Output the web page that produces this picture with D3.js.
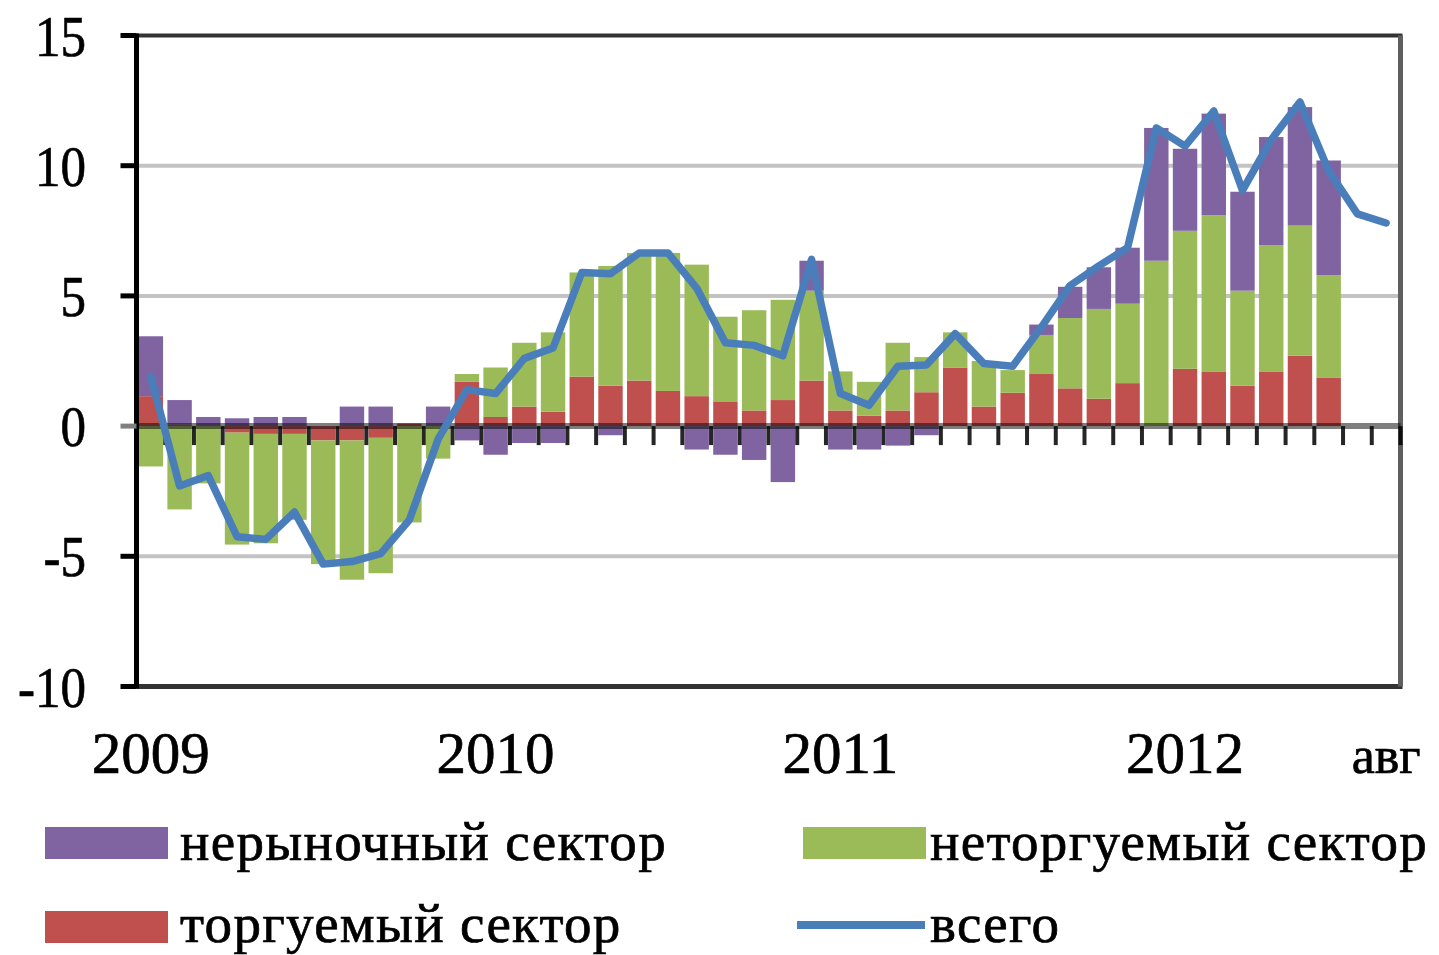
<!DOCTYPE html>
<html>
<head>
<meta charset="utf-8">
<script src="https://cdn.jsdelivr.net/npm/d3@7"></script>
<style>
  html, body { margin: 0; padding: 0; background: #fff; }
  svg text { font-family: 'Liberation Serif', 'Times New Roman', serif; fill: #000; stroke: #000; stroke-width: 0.7px; }
</style>
</head>
<body>
<div id="root"></div>
<script>
const months = [
  '2009-01', '2009-02', '2009-03', '2009-04', '2009-05', '2009-06', '2009-07', '2009-08', '2009-09', '2009-10', '2009-11', '2009-12',
  '2010-01', '2010-02', '2010-03', '2010-04', '2010-05', '2010-06', '2010-07', '2010-08', '2010-09', '2010-10', '2010-11', '2010-12',
  '2011-01', '2011-02', '2011-03', '2011-04', '2011-05', '2011-06', '2011-07', '2011-08', '2011-09', '2011-10', '2011-11', '2011-12',
  '2012-01', '2012-02', '2012-03', '2012-04', '2012-05', '2012-06', '2012-07', '2012-08',
];

// торгуемый сектор
const traded = [
  1.15, 0.05, 0, -0.25, -0.3, -0.3, -0.55, -0.55, -0.45, 0.1,
  0, 1.7, 0.35, 0.75, 0.55, 1.9, 1.55, 1.75, 1.35, 1.15,
  0.95, 0.6, 1.0, 1.75, 0.6, 0.4, 0.6, 1.3, 2.25, 0.75,
  1.28, 2.0, 1.45, 1.05, 1.65, 0, 2.2, 2.1, 1.55, 2.1,
  2.7, 1.85,
];

// неторгуемый сектор
const nonTraded = [
  -1.55, -3.2, -2.2, -4.3, -4.2, -3.3, -4.75, -5.35, -5.2, -3.7,
  -1.25, 0.3, 1.9, 2.45, 3.05, 4.0, 4.6, 4.9, 5.3, 5.05,
  3.25, 3.85, 3.85, 3.45, 1.5, 1.3, 2.6, 1.35, 1.35, 1.75,
  0.87, 1.5, 2.7, 3.45, 3.05, 6.35, 5.3, 6.0, 3.65, 4.85,
  5.0, 3.95,
];

// нерыночный сектор
const nonMarket = [
  2.3, 0.95, 0.35, 0.3, 0.35, 0.35, 0, 0.75, 0.75, 0,
  0.75, -0.55, -1.1, -0.65, -0.65, 0, -0.35, 0, 0, -0.9,
  -1.1, -1.3, -2.15, 1.15, -0.9, -0.9, -0.75, -0.35, 0, 0,
  0, 0.4, 1.2, 1.6, 2.15, 5.1, 3.15, 3.9, 3.8, 4.15,
  4.55, 4.4,
];

// всего
const total = [
  1.9, -2.3, -1.9, -4.25, -4.35, -3.3, -5.3, -5.2, -4.9, -3.6,
  -0.5, 1.4, 1.25, 2.6, 3.0, 5.9, 5.85, 6.65, 6.65, 5.3,
  3.2, 3.1, 2.7, 6.4, 1.25, 0.8, 2.3, 2.35, 3.55, 2.4,
  2.3, 3.8, 5.4, 6.15, 6.85, 11.45, 10.75, 12.1, 9.05, 11.0,
  12.45, 9.8, 8.15, 7.8,
];

const yTicks = [15, 10, 5, 0, -5, -10];
const xTickMonths = ['2009-01', '2010-01', '2011-01', '2012-01', '2012-08'];
const xTickLabels = ['2009', '2010', '2011', '2012', 'авг'];

const seriesKeys = ['traded', 'nonTraded', 'nonMarket'];
const seriesNames = {
  nonMarket: 'нерыночный сектор',
  nonTraded: 'неторгуемый сектор',
  traded: 'торгуемый сектор',
  total: 'всего',
};
const colors = {
  traded: '#c0504d',
  nonTraded: '#9bbb59',
  nonMarket: '#8064a2',
  total: '#4a7ebb',
};

const width = 1439;
const height = 955;
const plotLeft = 136.5;
const plotRight = 1400.5;
const plotTop = 35.5;
const plotBottom = 686.5;

const svg = d3.select('#root')
  .append('svg')
  .attr('width', width)
  .attr('height', height);

const x = d3.scaleBand()
  .domain(months)
  .range([plotLeft, plotRight])
  .paddingInner(0.15)
  .paddingOuter(0.075);

const y = d3.scaleLinear()
  .domain([-10, 15])
  .range([plotBottom, plotTop]);

// gridlines
svg.append('g')
  .selectAll('line')
  .data(yTicks.filter((d) => d !== 0 && d !== 15 && d !== -10))
  .enter()
  .append('line')
  .attr('x1', plotLeft)
  .attr('x2', plotRight)
  .attr('y1', (d) => y(d))
  .attr('y2', (d) => y(d))
  .style('stroke', '#c3c3c3')
  .style('stroke-width', 4);

// stacked bars
const rows = traded.map((v, i) => ({
  month: months[i],
  traded: v,
  nonTraded: nonTraded[i],
  nonMarket: nonMarket[i],
}));

const stacked = d3.stack()
  .keys(seriesKeys)
  .offset(d3.stackOffsetDiverging)(rows);

svg.append('g')
  .selectAll('g')
  .data(stacked)
  .enter()
  .append('g')
  .style('fill', (s) => colors[s.key])
  .selectAll('rect')
  .data((s) => s)
  .enter()
  .append('rect')
  .attr('x', (d) => x(d.data.month))
  .attr('width', x.bandwidth())
  .attr('y', (d) => y(Math.max(d[0], d[1])))
  .attr('height', (d) => Math.abs(y(d[0]) - y(d[1])));

// frame
svg.append('line')
  .attr('x1', plotLeft).attr('x2', plotRight + 2)
  .attr('y1', plotTop).attr('y2', plotTop)
  .style('stroke', '#333').style('stroke-width', 4);
svg.append('line')
  .attr('x1', plotLeft).attr('x2', plotRight + 2)
  .attr('y1', plotBottom).attr('y2', plotBottom)
  .style('stroke', '#333').style('stroke-width', 5);
svg.append('line')
  .attr('x1', plotRight).attr('x2', plotRight)
  .attr('y1', plotTop).attr('y2', plotBottom)
  .style('stroke', '#5f5f5f').style('stroke-width', 5);

// zero axis with month ticks
svg.append('line')
  .attr('x1', plotLeft).attr('x2', plotRight)
  .attr('y1', y(0)).attr('y2', y(0))
  .style('stroke', 'rgba(0,0,0,0.5)')
  .style('stroke-width', 6);

svg.append('g')
  .selectAll('line')
  .data(months.concat(['end']))
  .enter()
  .append('line')
  .attr('x1', (_d, i) => plotLeft + i * x.step())
  .attr('x2', (_d, i) => plotLeft + i * x.step())
  .attr('y1', y(0))
  .attr('y2', y(0) + 19)
  .style('stroke', 'rgba(0,0,0,0.85)')
  .style('stroke-width', 4);

// y axis
svg.append('line')
  .attr('x1', plotLeft).attr('x2', plotLeft)
  .attr('y1', plotTop - 2).attr('y2', plotBottom + 2)
  .style('stroke', '#000').style('stroke-width', 5);

const yAxis = svg.append('g');
yAxis.selectAll('line')
  .data(yTicks)
  .enter()
  .append('line')
  .attr('x1', plotLeft - 16)
  .attr('x2', plotLeft)
  .attr('y1', (d) => y(d))
  .attr('y2', (d) => y(d))
  .style('stroke', (d) => (d === 0 ? '#808080' : '#000'))
  .style('stroke-width', 5);

yAxis.selectAll('text')
  .data(yTicks)
  .enter()
  .append('text')
  .attr('text-anchor', 'end')
  .attr('font-size', '58px')
  .attr('transform', (d) => `translate(86, ${ y(d) + 20 }) scale(0.88, 1)`)
  .text((d) => d);

// x labels
svg.append('g')
  .selectAll('text')
  .data(xTickMonths)
  .enter()
  .append('text')
  .attr('x', (d) => x(d) + x.bandwidth() / 2)
  .attr('y', 773)
  .attr('text-anchor', 'middle')
  .attr('font-size', (_d, i) => (xTickLabels[i] === 'авг' ? '52px' : '59px'))
  .text((_d, i) => xTickLabels[i]);

// total line
const line = d3.line()
  .x((_d, i) => x(months[i]) + x.bandwidth() / 2)
  .y((d) => y(d));

svg.append('path')
  .datum(total)
  .attr('d', line)
  .style('fill', 'none')
  .style('stroke', colors.total)
  .style('stroke-width', 7.5)
  .style('stroke-linejoin', 'round')
  .style('stroke-linecap', 'round');

// legend
const legendItems = [
  { key: 'nonMarket', x: 45, y: 827, textX: 180, base: 860 },
  { key: 'nonTraded', x: 803, y: 827, textX: 930, base: 860 },
  { key: 'traded', x: 45, y: 911, textX: 180, base: 942 },
  { key: 'total', x: 797, y: 911, textX: 930, base: 942 },
];

const legend = svg.append('g');
legend.selectAll('.swatch')
  .data(legendItems.filter((d) => d.key !== 'total'))
  .enter()
  .append('rect')
  .attr('class', 'swatch')
  .attr('x', (d) => d.x)
  .attr('y', (d) => d.y)
  .attr('width', 123)
  .attr('height', 32)
  .style('fill', (d) => colors[d.key]);

legend.selectAll('.lineSwatch')
  .data(legendItems.filter((d) => d.key === 'total'))
  .enter()
  .append('line')
  .attr('class', 'lineSwatch')
  .attr('x1', (d) => d.x)
  .attr('x2', (d) => d.x + 128)
  .attr('y1', 925)
  .attr('y2', 925)
  .style('stroke', colors.total)
  .style('stroke-width', 8);

legend.selectAll('text')
  .data(legendItems)
  .enter()
  .append('text')
  .attr('x', (d) => d.textX)
  .attr('y', (d) => d.base)
  .attr('font-size', '55px')
  .attr('letter-spacing', '1.3px')
  .text((d) => seriesNames[d.key]);
</script>
</body>
</html>
